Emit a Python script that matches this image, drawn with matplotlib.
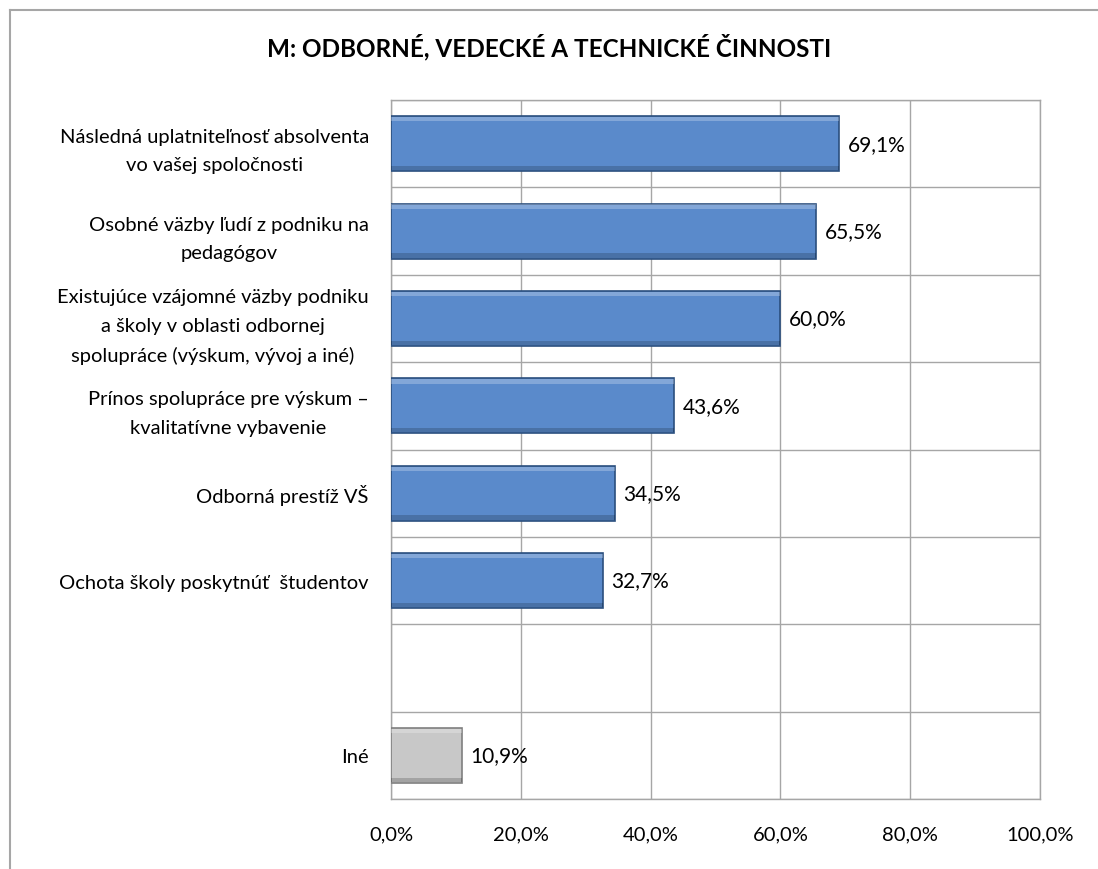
import matplotlib.pyplot as plt
import numpy as np
from matplotlib.lines import Line2D
from matplotlib.ticker import FuncFormatter, FixedLocator

plt.rcParams['font.family'] = ['Lato', 'DejaVu Sans']

title = "M: ODBORNÉ, VEDECKÉ A TECHNICKÉ ČINNOSTI"
categories = [
    "Následná uplatniteľnosť absolventa\nvo vašej spoločnosti",
    "Osobné väzby ľudí z podniku na\npedagógov",
    "Existujúce vzájomné väzby podniku\na školy v oblasti odbornej\nspolupráce (výskum, vývoj a iné)",
    "Prínos spolupráce pre výskum –\nkvalitatívne vybavenie",
    "Odborná prestíž VŠ",
    "Ochota školy poskytnúť  študentov",
    "",
    "Iné",
]
values = [69.1, 65.5, 60.0, 43.6, 34.5, 32.7, None, 10.9]
bar_colors = ['#5A8ACB'] * 6 + [None, '#C8C8C8']
edge_colors = ['#2B4F7E'] * 6 + [None, '#7F7F7F']

fig = plt.figure(figsize=(10.98, 8.7), dpi=100)
ax = fig.add_axes([391 / 1098, 1 - 800 / 870, 649 / 1098, 699 / 870])

pos = np.arange(len(categories))
grid_col = '#A6A6A6'
fs = 14.5

for p, v, c, ec in zip(pos, values, bar_colors, edge_colors):
    if v is None:
        continue
    ax.barh(p, v, height=0.63, color=c, edgecolor=ec, linewidth=1.2, zorder=3)
    # bevel look: light top strip, darker bottom strip
    ax.barh(p - 0.63 / 2 + 0.035, v, height=0.05, color='white', alpha=0.25,
            linewidth=0, zorder=4)
    ax.barh(p + 0.63 / 2 - 0.035, v, height=0.05, color='black', alpha=0.18,
            linewidth=0, zorder=4)
    ax.annotate(f"{v:.1f}%".replace('.', ','), xy=(v, p), xytext=(6, 0),
                textcoords='offset points', ha='left', va='center',
                fontsize=15, color='black')

ax.set_xlim(0, 100)
ax.set_ylim(len(categories) - 0.5, -0.5)
ax.set_xticks(np.arange(0, 101, 20))
ax.xaxis.set_major_formatter(FuncFormatter(lambda x, _: f"{x:.1f}%".replace('.', ',')))
ax.set_yticks(pos)
ax.set_yticklabels(categories, ha='right', multialignment='center', linespacing=1.8)
ax.yaxis.set_minor_locator(FixedLocator(np.arange(-0.5, len(categories), 1)))
ax.tick_params(axis='both', which='both', length=0, labelsize=fs)
ax.tick_params(axis='y', pad=16)
ax.tick_params(axis='x', pad=19)

ax.grid(True, axis='x', which='major', color=grid_col, linewidth=1, zorder=0)
ax.grid(True, axis='y', which='minor', color=grid_col, linewidth=1, zorder=0)
ax.set_axisbelow(True)
for s in ax.spines.values():
    s.set_color(grid_col)
    s.set_linewidth(1)

fig.text(549 / 1098, 1 - 47 / 870, title, ha='center', va='center',
         fontsize=17.5, fontweight='bold')

# chart area border (top and left edges visible)
fig.add_artist(Line2D([10 / 1098, 1], [1 - 11 / 870, 1 - 11 / 870],
                      transform=fig.transFigure, color='#A6A6A6', linewidth=1.5))
fig.add_artist(Line2D([10 / 1098, 10 / 1098], [0, 1 - 11 / 870],
                      transform=fig.transFigure, color='#A6A6A6', linewidth=1.5))

fig.savefig('out.png', dpi=100)
